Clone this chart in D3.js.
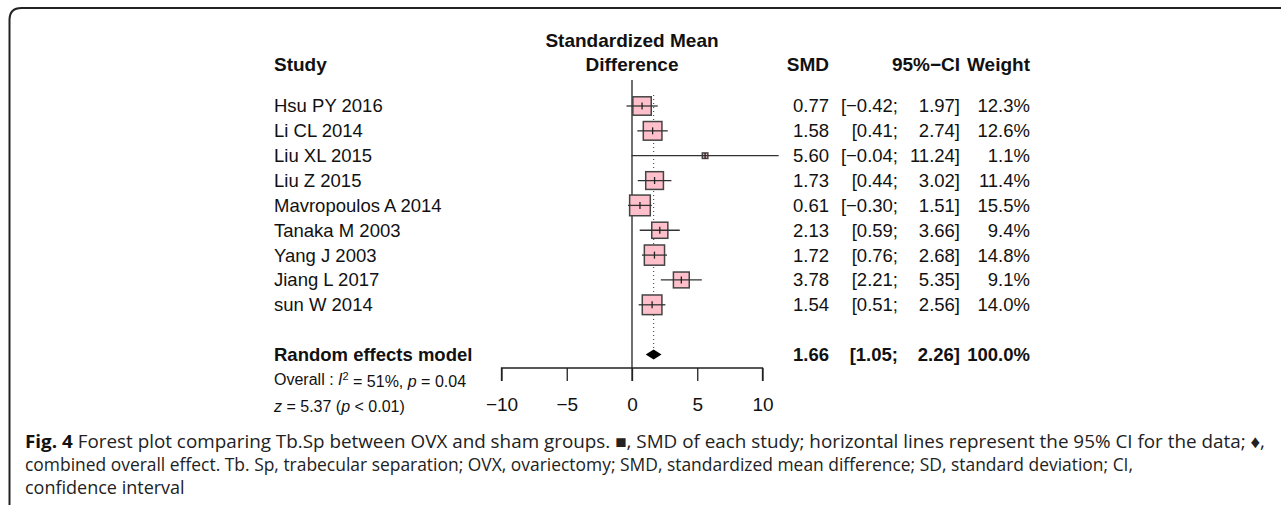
<!DOCTYPE html>
<html>
<head>
<meta charset="utf-8">
<script src="https://cdn.jsdelivr.net/npm/d3@7"></script>
<style>
  body { margin: 0; background: #fff; }
  svg { display: block; }
  text { font-family: 'Liberation Sans', Arial, sans-serif; fill: #111; }
  .cap { font-family: 'Open Sans', sans-serif; font-size: 18px; fill: #222; }
</style>
</head>
<body>
<div id="chart"></div>
<script>
const studies = ['Hsu PY 2016', 'Li CL 2014', 'Liu XL 2015', 'Liu Z 2015', 'Mavropoulos A 2014',
  'Tanaka M 2003', 'Yang J 2003', 'Jiang L 2017', 'sun W 2014']
const smd = [0.77, 1.58, 5.60, 1.73, 0.61, 2.13, 1.72, 3.78, 1.54]
const lower = [-0.42, 0.41, -0.04, 0.44, -0.30, 0.59, 0.76, 2.21, 0.51]
const upper = [1.97, 2.74, 11.24, 3.02, 1.51, 3.66, 2.68, 5.35, 2.56]
const weight = [12.3, 12.6, 1.1, 11.4, 15.5, 9.4, 14.8, 9.1, 14.0]
const pooled = [1.66, 1.05, 2.26]
const ticks = [-10, -5, 0, 5, 10]

const width = 1281
const height = 505
const fs = 18.5

const svg = d3.select('#chart')
  .append('svg')
  .attr('width', width)
  .attr('height', height)

// frame
svg.append('path')
  .attr('d', 'M9.5,505 L9.5,20 Q9.5,8 21.5,8 L1281,8')
  .attr('fill', 'none')
  .attr('stroke', '#222')
  .attr('stroke-width', 2)

const x = d3.scaleLinear().domain([-10, 10]).range([501.5, 762.5])
const y = d3.scaleLinear().domain([0, 1]).range([106, 130.85])

const fmt = d3.format('.2f')
const num = v => fmt(v).replace('-', '\u2212')

const colStudy = 274
const colSmd = 829
const colCi1 = 898
const colCi2 = 960
const colW = 1030

// headers
const head = svg.append('g').style('font-weight', 'bold').style('font-size', '19px')
head.append('text').attr('x', colStudy).attr('y', 64).attr('dy', '0.35em').text('Study')
head.append('text').attr('x', x(0)).attr('y', 40).attr('dy', '0.35em')
  .attr('text-anchor', 'middle').text('Standardized Mean')
head.append('text').attr('x', x(0)).attr('y', 64).attr('dy', '0.35em')
  .attr('text-anchor', 'middle').text('Difference')
head.append('text').attr('x', colSmd).attr('y', 64).attr('dy', '0.35em')
  .attr('text-anchor', 'end').text('SMD')
head.append('text').attr('x', colCi2).attr('y', 64).attr('dy', '0.35em')
  .attr('text-anchor', 'end').text('95%\u2212CI')
head.append('text').attr('x', colW).attr('y', 64).attr('dy', '0.35em')
  .attr('text-anchor', 'end').text('Weight')

// zero line and pooled dotted line
svg.append('line')
  .attr('x1', x(0)).attr('x2', x(0))
  .attr('y1', 80).attr('y2', 381)
  .attr('stroke', '#222').attr('stroke-width', 1.3)

svg.append('line')
  .attr('x1', x(pooled[0])).attr('x2', x(pooled[0]))
  .attr('y1', 95).attr('y2', y(10) - 5)
  .attr('stroke', '#333').attr('stroke-width', 1)
  .attr('stroke-dasharray', '1,3')

// study rows
const rows = svg.append('g').selectAll('g')
  .data(studies.map((s, i) => ({ s, i })))
  .enter()
  .append('g')
  .attr('transform', d => `translate(0,${y(d.i)})`)
  .style('font-size', fs + 'px')

rows.append('text').attr('x', colStudy).attr('dy', '0.35em').text(d => d.s)
rows.append('text').attr('x', colSmd).attr('dy', '0.35em').attr('text-anchor', 'end')
  .text(d => num(smd[d.i]))
rows.append('text').attr('x', colCi1).attr('dy', '0.35em').attr('text-anchor', 'end')
  .text(d => '[' + num(lower[d.i]) + ';')
rows.append('text').attr('x', colCi2).attr('dy', '0.35em').attr('text-anchor', 'end')
  .text(d => num(upper[d.i]) + ']')
rows.append('text').attr('x', colW).attr('dy', '0.35em').attr('text-anchor', 'end')
  .text(d => weight[d.i].toFixed(1) + '%')

const side = w => 5.25 * Math.sqrt(w)
rows.append('rect')
  .attr('x', d => x(smd[d.i]) - side(weight[d.i]) / 2)
  .attr('y', d => -side(weight[d.i]) / 2)
  .attr('width', d => side(weight[d.i]))
  .attr('height', d => side(weight[d.i]))
  .attr('fill', '#ffc0cb')
  .attr('stroke', '#444')
  .attr('stroke-width', 1.5)

rows.append('line')
  .attr('x1', d => x(lower[d.i])).attr('x2', d => x(upper[d.i]))
  .attr('stroke', '#333').attr('stroke-width', 1.3)

rows.append('line')
  .attr('x1', d => x(smd[d.i])).attr('x2', d => x(smd[d.i]))
  .attr('y1', d => -Math.min(3.5, side(weight[d.i]) / 2))
  .attr('y2', d => Math.min(3.5, side(weight[d.i]) / 2))
  .attr('stroke', '#222').attr('stroke-width', 1.3)

// pooled row
const py = y(10)
const pr = svg.append('g').attr('transform', `translate(0,${py})`)
  .style('font-size', fs + 'px').style('font-weight', 'bold')
pr.append('text').attr('x', colStudy).attr('dy', '0.35em').text('Random effects model')
pr.append('text').attr('x', colSmd).attr('dy', '0.35em').attr('text-anchor', 'end').text(num(pooled[0]))
pr.append('text').attr('x', colCi1).attr('dy', '0.35em').attr('text-anchor', 'end').text('[' + num(pooled[1]) + ';')
pr.append('text').attr('x', colCi2).attr('dy', '0.35em').attr('text-anchor', 'end').text(num(pooled[2]) + ']')
pr.append('text').attr('x', colW).attr('dy', '0.35em').attr('text-anchor', 'end').text('100.0%')
pr.append('path')
  .attr('d', `M${x(pooled[1])},0 L${x(pooled[0])},-5 L${x(pooled[2])},0 L${x(pooled[0])},5 Z`)
  .attr('fill', '#000')

// heterogeneity text
const het = svg.append('text').attr('x', colStudy).attr('y', 379).attr('dy', '0.35em')
  .style('font-size', '16px')
het.append('tspan').text('Overall : ')
het.append('tspan').style('font-style', 'italic').text('I')
het.append('tspan').attr('dy', '-0.45em').style('font-size', '11px').text('2')
het.append('tspan').attr('dy', '0.45em').text(' = 51%, ')
het.append('tspan').style('font-style', 'italic').text('p')
het.append('tspan').text(' = 0.04')

const zt = svg.append('text').attr('x', colStudy).attr('y', 406).attr('dy', '0.35em')
  .style('font-size', '16px')
zt.append('tspan').style('font-style', 'italic').text('z')
zt.append('tspan').text(' = 5.37 (')
zt.append('tspan').style('font-style', 'italic').text('p')
zt.append('tspan').text(' < 0.01)')

// axis
const axis = svg.append('g')
  .attr('transform', 'translate(0,368)')
  .call(d3.axisBottom(x).tickValues(ticks).tickSize(13).tickPadding(17)
    .tickFormat(d => String(d).replace('-', '\u2212')))
axis.select('.domain').attr('d', `M${x(-10)},13V0H${x(10)}V13`).attr('stroke', '#222').attr('stroke-width', 1.3)
axis.selectAll('.tick line').attr('stroke', '#222').attr('stroke-width', 1.3)
axis.selectAll('.tick text')
  .style('font-family', "'Liberation Sans', Arial, sans-serif")
  .style('font-size', '19px').attr('fill', '#111')

// caption
const capLines = [
  [['Fig. 4', true], [' Forest plot comparing Tb.Sp between OVX and sham groups. \u25A0, SMD of each study; horizontal lines represent the 95% CI for the data; \u2666,', false]],
  [['combined overall effect. Tb. Sp, trabecular separation; OVX, ovariectomy; SMD, standardized mean difference; SD, standard deviation; CI,', false]],
  [['confidence interval', false]]
]
const capY = [442, 465, 488]
const capW = [1240, 1108, null]
capLines.forEach((parts, i) => {
  const t = svg.append('text').attr('class', 'cap').attr('x', 25).attr('y', capY[i]).attr('dy', '0.35em')
  parts.forEach(([s, b]) => {
    const sp = t.append('tspan').text(s)
    if (b) sp.style('font-weight', 'bold').style('fill', '#111')
  })
  if (capW[i]) t.attr('textLength', capW[i]).attr('lengthAdjust', 'spacingAndGlyphs')
})
</script>
</body>
</html>
